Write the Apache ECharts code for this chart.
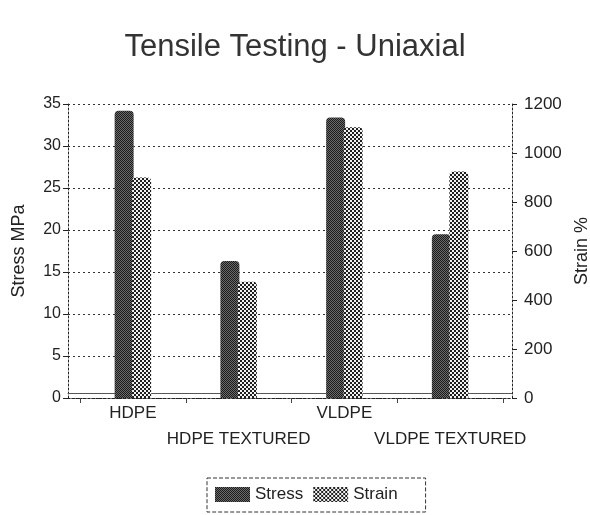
<!DOCTYPE html>
<html><head><meta charset="utf-8">
<script src="https://cdn.jsdelivr.net/npm/echarts@6/dist/echarts.min.js"></script>
<style>html,body{margin:0;padding:0;background:#fff}#c{width:590px;height:515px}</style>
</head><body><div id="c"></div>
<script>
const categories = ['HDPE', 'HDPE TEXTURED', 'VLDPE', 'VLDPE TEXTURED'];
const stressValues = [34.2, 16.3, 33.4, 19.5];
const strainValues = [900, 475, 1105, 925];
const stressTicks = [0, 35, 5];
const strainTicks = [0, 1200, 200];

function makePattern(kind) {
  const c = document.createElement('canvas');
  c.width = 4; c.height = 4;
  const g = c.getContext('2d');
  if (kind === 'dark') {
    for (let y = 0; y < 4; y++) for (let x = 0; x < 4; x++) {
      g.fillStyle = ((x + y) % 2 === 0) ? '#1c1c1c' : '#6a6a6a';
      g.fillRect(x, y, 1, 1);
    }
  } else {
    for (let y = 0; y < 4; y++) for (let x = 0; x < 4; x++) {
      const on = ((Math.floor(x / 2) + Math.floor(y / 2)) % 2 === 0);
      g.fillStyle = on ? '#1e1e1e' : '#f2f2f2';
      g.fillRect(x, y, 1, 1);
    }
  }
  return { image: c, repeat: 'repeat' };
}
const stressFill = makePattern('dark');
const strainFill = makePattern('light');

const chart = echarts.init(document.getElementById('c'), null, { renderer: 'canvas' });
const font = 'Liberation Sans, Arial, sans-serif';
const dotted = { color: '#222', type: [2, 2], width: 1 };

chart.setOption({
  animation: false,
  title: {
    text: 'Tensile Testing - Uniaxial', left: 'center', top: 27,
    textStyle: { fontFamily: font, fontSize: 31, fontWeight: 'normal', color: '#333' }
  },
  legend: {
    data: ['Stress', 'Strain'], bottom: 3, left: 207, icon: 'rect',
    itemWidth: 35, itemHeight: 15, itemGap: 10,
    padding: [8, 28, 9, 8],
    borderColor: '#333', borderWidth: 1, borderType: 'dashed',
    textStyle: { fontFamily: font, fontSize: 17, color: '#222' }
  },
  grid: [
    { left: 68, right: 78, top: 104, bottom: 117, containLabel: false, outerBoundsMode: 'none' },
    { left: 80, right: 87, top: 104, bottom: 117, containLabel: false, outerBoundsMode: 'none' }
  ],
  xAxis: [
    { gridIndex: 0, type: 'category', data: categories, position: 'bottom',
      axisLine: { lineStyle: dotted }, axisTick: { show: false }, axisLabel: { show: false } },
    { gridIndex: 0, type: 'category', data: categories, position: 'top',
      axisLine: { lineStyle: dotted }, axisTick: { show: false }, axisLabel: { show: false } },
    { gridIndex: 0, type: 'category', data: categories, position: 'bottom', offset: -5,
      axisLine: { lineStyle: { color: '#555', width: 1 } }, axisTick: { show: false }, axisLabel: { show: false } },
    { gridIndex: 1, type: 'category', data: categories,
      axisLine: { show: false },
      axisTick: { show: true, alignWithLabel: false, length: 5, lineStyle: { color: '#444' } },
      axisLabel: {
        fontFamily: font, fontSize: 17, color: '#222', margin: 2, lineHeight: 26,
        interval: 0,
        formatter: (v, i) => (i % 2 ? '\n' + v : v)
      } }
  ],
  yAxis: [
    { gridIndex: 0, type: 'value', min: stressTicks[0], max: stressTicks[1], interval: stressTicks[2],
      position: 'left', name: 'Stress MPa', nameLocation: 'middle', nameGap: 40,
      nameTextStyle: { fontFamily: font, fontSize: 18, color: '#222' },
      axisLine: { show: true, lineStyle: dotted },
      axisTick: { show: true, length: 5, lineStyle: { color: '#222' } },
      axisLabel: { fontFamily: font, fontSize: 16, color: '#222', margin: 7 },
      splitLine: { show: true, lineStyle: { color: '#333', type: [2, 3], width: 1 } } },
    { gridIndex: 0, type: 'value', min: strainTicks[0], max: strainTicks[1], interval: strainTicks[2],
      position: 'right', name: 'Strain %', nameLocation: 'middle', nameGap: 58,
      nameTextStyle: { fontFamily: font, fontSize: 18, color: '#222' },
      axisLine: { show: true, lineStyle: dotted },
      axisTick: { show: true, length: 5, lineStyle: { color: '#222' } },
      axisLabel: { fontFamily: font, fontSize: 17, color: '#222', margin: 12, formatter: v => String(v) },
      splitLine: { show: false } },
    { gridIndex: 1, type: 'value', min: stressTicks[0], max: stressTicks[1], show: false },
    { gridIndex: 1, type: 'value', min: strainTicks[0], max: strainTicks[1], show: false }
  ],
  series: [
    { name: 'Stress', type: 'bar', xAxisIndex: 3, yAxisIndex: 2, data: stressValues,
      barWidth: 19, barGap: '-8%', itemStyle: { color: stressFill, borderRadius: [4, 4, 0, 0] } },
    { name: 'Strain', type: 'bar', xAxisIndex: 3, yAxisIndex: 3, data: strainValues,
      barWidth: 19, itemStyle: { color: strainFill, borderRadius: [4, 4, 0, 0] } }
  ]
});
</script></body></html>
